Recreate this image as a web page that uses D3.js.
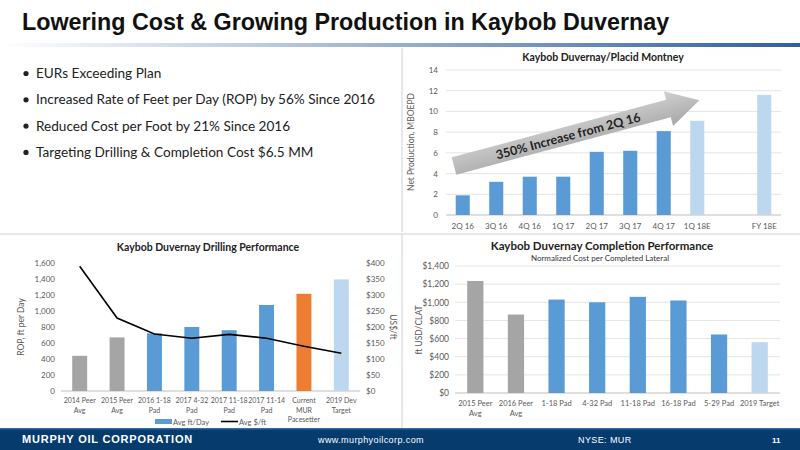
<!DOCTYPE html>
<html><head><meta charset="utf-8">
<script src="https://cdn.jsdelivr.net/npm/d3@7"></script>
<style>body{margin:0;background:#fff}svg{display:block}</style>
</head><body><svg id="s" width="800" height="450"></svg>
<script>
const prodCats=["2Q 16","3Q 16","4Q 16","1Q 17","2Q 17","3Q 17","4Q 17","1Q 18E","","FY 18E"];
const prodVals=[1.9,3.2,3.7,3.7,6.1,6.2,8.1,9.1,null,11.6];
const prodTicks=[0,2,4,6,8,10,12,14];
const drillCats=[["2014 Peer","Avg"],["2015 Peer","Avg"],["2016 1-18","Pad"],["2017 4-32","Pad"],["2017 11-18","Pad"],["2017 11-14","Pad"],["Current","MUR","Pacesetter"],["2019 Dev","Target"]];
const drillFtDay=[440,670,720,800,760,1075,1215,1395];
const drillCost=[390,228,178,165,177,165,140,118];
const drillLeftTicks=[0,200,400,600,800,1000,1200,1400,1600];
const drillRightTicks=[0,50,100,150,200,250,300,350,400];
const compCats=[["2015 Peer","Avg"],["2016 Peer","Avg"],["1-18 Pad"],["4-32 Pad"],["11-18 Pad"],["16-18 Pad"],["5-29 Pad"],["2019 Target"]];
const compVals=[1235,865,1030,1000,1060,1020,645,560];
const compTicks=[0,200,400,600,800,1000,1200,1400];
const bullets=["EURs Exceeding Plan","Increased Rate of Feet per Day (ROP) by 56% Since 2016","Reduced Cost per Foot by 21% Since 2016","Targeting Drilling & Completion Cost $6.5 MM"];

const BLUE="#5b9bd5",LIGHT="#bdd7ee",GRAY="#a5a5a5",ORANGE="#ed7d31",TXT="#595959",GRID="#e4e4e4";
const F="Lato, 'Open Sans', sans-serif";
const svg=d3.select("#s");
const defs=svg.append("defs");
const lg=defs.append("linearGradient").attr("id","tl");
lg.append("stop").attr("offset","0").attr("stop-color","#ffffff");
lg.append("stop").attr("offset","1").attr("stop-color","#2e5f9e");
const ag=defs.append("linearGradient").attr("id","ar").attr("x1",0).attr("y1",0).attr("x2",0).attr("y2",1);
ag.append("stop").attr("offset","0").attr("stop-color","#d0d0d0");
ag.append("stop").attr("offset","1").attr("stop-color","#a8a8a8");

// header
svg.append("text").attr("x",22).attr("y",30).attr("font-family","Liberation Sans, Arial").attr("font-weight","bold").attr("font-size",23.3).attr("fill","#111").text("Lowering Cost & Growing Production in Kaybob Duvernay");
svg.append("rect").attr("x",0).attr("y",43).attr("width",800).attr("height",4).attr("fill","url(#tl)");
// dividers
svg.append("line").attr("x1",402).attr("x2",402).attr("y1",48).attr("y2",232).attr("stroke","#d0d0d0");
svg.append("line").attr("x1",0).attr("x2",800).attr("y1",234).attr("y2",234).attr("stroke","#d0d0d0");
svg.append("line").attr("x1",402).attr("x2",402).attr("y1",234).attr("y2",428).attr("stroke","#d0d0d0");

// bullets
bullets.forEach((b,i)=>{
  const y=78+i*26.3;
  svg.append("circle").attr("cx",26).attr("cy",y-4.5).attr("r",2.6).attr("fill","#222");
  svg.append("text").attr("x",36).attr("y",y).attr("font-family",F).attr("font-size",13.6).attr("fill","#222").text(b);
});

function yGrid(g,y,ticks,x0,x1){
  ticks.forEach(t=>{ if(t>0) g.append("line").attr("x1",x0).attr("x2",x1).attr("y1",y(t)).attr("y2",y(t)).attr("stroke",GRID);});
  g.append("line").attr("x1",x0).attr("x2",x1).attr("y1",y(0)).attr("y2",y(0)).attr("stroke","#bfbfbf");
}
function axisText(g,ax){g.call(ax);g.select(".domain").remove();g.selectAll(".tick line").remove();g.selectAll("text").attr("font-family",F).attr("fill",TXT);}

// ---- Chart 1: production
{
  const g=svg.append("g");
  const x=d3.scaleBand().domain(d3.range(prodCats.length)).range([446,781]).paddingInner(0.58).paddingOuter(0.29);
  const y=d3.scaleLinear().domain([0,14]).range([215,70]);
  yGrid(g,y,prodTicks,446,781);
  g.append("text").attr("x",603).attr("y",61).attr("text-anchor","middle").attr("font-family",F).attr("font-weight","bold").attr("font-size",10.5).attr("fill","#222").text("Kaybob Duvernay/Placid Montney");
  g.selectAll(".b").data(prodVals.map((v,i)=>({v,i})).filter(d=>d.v!=null)).join("rect")
    .attr("x",d=>x(d.i)).attr("width",x.bandwidth()).attr("y",d=>y(d.v)).attr("height",d=>y(0)-y(d.v))
    .attr("fill",d=>d.i>=7?LIGHT:BLUE);
  const ya=g.append("g").attr("transform","translate(446,0)");
  axisText(ya,d3.axisLeft(y).tickValues(prodTicks).tickSize(0).tickPadding(8));
  ya.selectAll("text").attr("font-size",8);
  const xa=g.append("g").attr("transform","translate(0,215)");
  axisText(xa,d3.axisBottom(x).tickFormat(i=>prodCats[i]).tickSize(0).tickPadding(8));
  xa.selectAll("text").attr("font-size",8);
  g.append("text").attr("transform","translate(414,142) rotate(-90)").attr("text-anchor","middle").attr("font-family",F).attr("font-size",8.5).attr("fill",TXT).text("Net Production, MBOEPD");
  const a=g.append("g").attr("transform","translate(454,166) rotate(-15)");
  a.append("path").attr("d","M0,-9 L222,-9 L222,-18 L254,0 L222,18 L222,9 L0,9 Z").attr("fill","url(#ar)");
  a.append("text").attr("x",118).attr("y",5).attr("text-anchor","middle").attr("font-family",F).attr("font-weight","bold").attr("font-size",12.5).attr("fill","#1f1f1f").text("350% Increase from 2Q 16");
}

// ---- Chart 2: drilling
{
  const g=svg.append("g");
  const x=d3.scaleBand().domain(d3.range(drillCats.length)).range([61,360]).paddingInner(0.6).paddingOuter(0.3);
  const y=d3.scaleLinear().domain([0,1600]).range([391,263]);
  const y2=d3.scaleLinear().domain([0,400]).range([391,263]);
  g.append("line").attr("x1",61).attr("x2",360).attr("y1",391).attr("y2",391).attr("stroke","#bfbfbf");
  g.append("text").attr("x",208).attr("y",251).attr("text-anchor","middle").attr("font-family",F).attr("font-weight","bold").attr("font-size",10.5).attr("fill","#222").text("Kaybob Duvernay Drilling Performance");
  const cols=[GRAY,GRAY,BLUE,BLUE,BLUE,BLUE,ORANGE,LIGHT];
  g.selectAll(".b").data(drillFtDay).join("rect")
    .attr("x",(d,i)=>x(i)).attr("width",x.bandwidth()).attr("y",d=>y(d)).attr("height",d=>y(0)-y(d)).attr("fill",(d,i)=>cols[i]);
  const line=d3.line().x((d,i)=>x(i)+x.bandwidth()/2).y(d=>y2(d));
  g.append("path").attr("d",line(drillCost)).attr("fill","none").attr("stroke","#000").attr("stroke-width",1.6);
  const la=g.append("g").attr("transform","translate(61,0)");
  axisText(la,d3.axisLeft(y).tickValues(drillLeftTicks).tickFormat(d3.format(",")).tickSize(0).tickPadding(6));
  la.selectAll("text").attr("font-size",8);
  const ra=g.append("g").attr("transform","translate(360,0)");
  axisText(ra,d3.axisRight(y2).tickValues(drillRightTicks).tickFormat(d=>"$"+d).tickSize(0).tickPadding(6));
  ra.selectAll("text").attr("font-size",8);
  drillCats.forEach((c,i)=>c.forEach((t,j)=>g.append("text").attr("x",x(i)+x.bandwidth()/2).attr("y",403+j*9.5).attr("text-anchor","middle").attr("font-family",F).attr("font-size",7).attr("fill",TXT).text(t)));
  g.append("text").attr("transform","translate(24,327) rotate(-90)").attr("text-anchor","middle").attr("font-family",F).attr("font-size",8.5).attr("fill",TXT).text("ROP, ft per Day");
  g.append("text").attr("transform","translate(390,327) rotate(90)").attr("text-anchor","middle").attr("font-family",F).attr("font-size",8.5).attr("fill",TXT).text("US$/ft");
  g.append("rect").attr("x",155).attr("y",419).attr("width",17).attr("height",5).attr("fill",BLUE);
  g.append("text").attr("x",173).attr("y",424.5).attr("font-family",F).attr("font-size",7.5).attr("fill",TXT).text("Avg ft/Day");
  g.append("line").attr("x1",221).attr("x2",238).attr("y1",421.5).attr("y2",421.5).attr("stroke","#000").attr("stroke-width",1.6);
  g.append("text").attr("x",239).attr("y",424.5).attr("font-family",F).attr("font-size",7.5).attr("fill",TXT).text("Avg $/ft");
}

// ---- Chart 3: completion
{
  const g=svg.append("g");
  const x=d3.scaleBand().domain(d3.range(compCats.length)).range([455,780]).paddingInner(0.6).paddingOuter(0.3);
  const y=d3.scaleLinear().domain([0,1400]).range([393,266]);
  yGrid(g,y,compTicks,455,780);
  g.append("text").attr("x",602).attr("y",250).attr("text-anchor","middle").attr("font-family",F).attr("font-weight","bold").attr("font-size",11.5).attr("fill","#222").text("Kaybob Duvernay Completion Performance");
  g.append("text").attr("x",600).attr("y",261).attr("text-anchor","middle").attr("font-family",F).attr("font-size",8).attr("fill","#333").text("Normalized Cost per Completed Lateral");
  const cols=[GRAY,GRAY,BLUE,BLUE,BLUE,BLUE,BLUE,LIGHT];
  g.selectAll(".b").data(compVals).join("rect")
    .attr("x",(d,i)=>x(i)).attr("width",x.bandwidth()).attr("y",d=>y(d)).attr("height",d=>y(0)-y(d)).attr("fill",(d,i)=>cols[i]);
  const la=g.append("g").attr("transform","translate(455,0)");
  axisText(la,d3.axisLeft(y).tickValues(compTicks).tickFormat(d=>"$"+d3.format(",")(d)).tickSize(0).tickPadding(6));
  la.selectAll("text").attr("font-size",8.5);
  compCats.forEach((c,i)=>c.forEach((t,j)=>g.append("text").attr("x",x(i)+x.bandwidth()/2).attr("y",406+j*10).attr("text-anchor","middle").attr("font-family",F).attr("font-size",7.5).attr("fill",TXT).text(t)));
  g.append("text").attr("transform","translate(422,330) rotate(-90)").attr("text-anchor","middle").attr("font-family",F).attr("font-size",8.5).attr("fill",TXT).text("ft USD/CLAT");
}

// footer
svg.append("rect").attr("x",0).attr("y",428).attr("width",800).attr("height",22).attr("fill","#063b6e");
svg.append("rect").attr("x",0).attr("y",428).attr("width",800).attr("height",1.5).attr("fill","#2f6aa3");
const ft=(x,t,o)=>svg.append("text").attr("x",x).attr("y",443).attr("font-family","Liberation Sans, Arial").attr("fill","#fff").attr("font-size",o.s).attr("font-weight",o.b?"bold":"normal").attr("letter-spacing",o.l||0).text(t);
ft(22,"MURPHY OIL CORPORATION",{s:11,b:1,l:0.8});
ft(318,"www.murphyoilcorp.com",{s:9,l:0.4});
ft(578,"NYSE: MUR",{s:9,l:0.4});
ft(772,"11",{s:8,b:1});
</script></body></html>
